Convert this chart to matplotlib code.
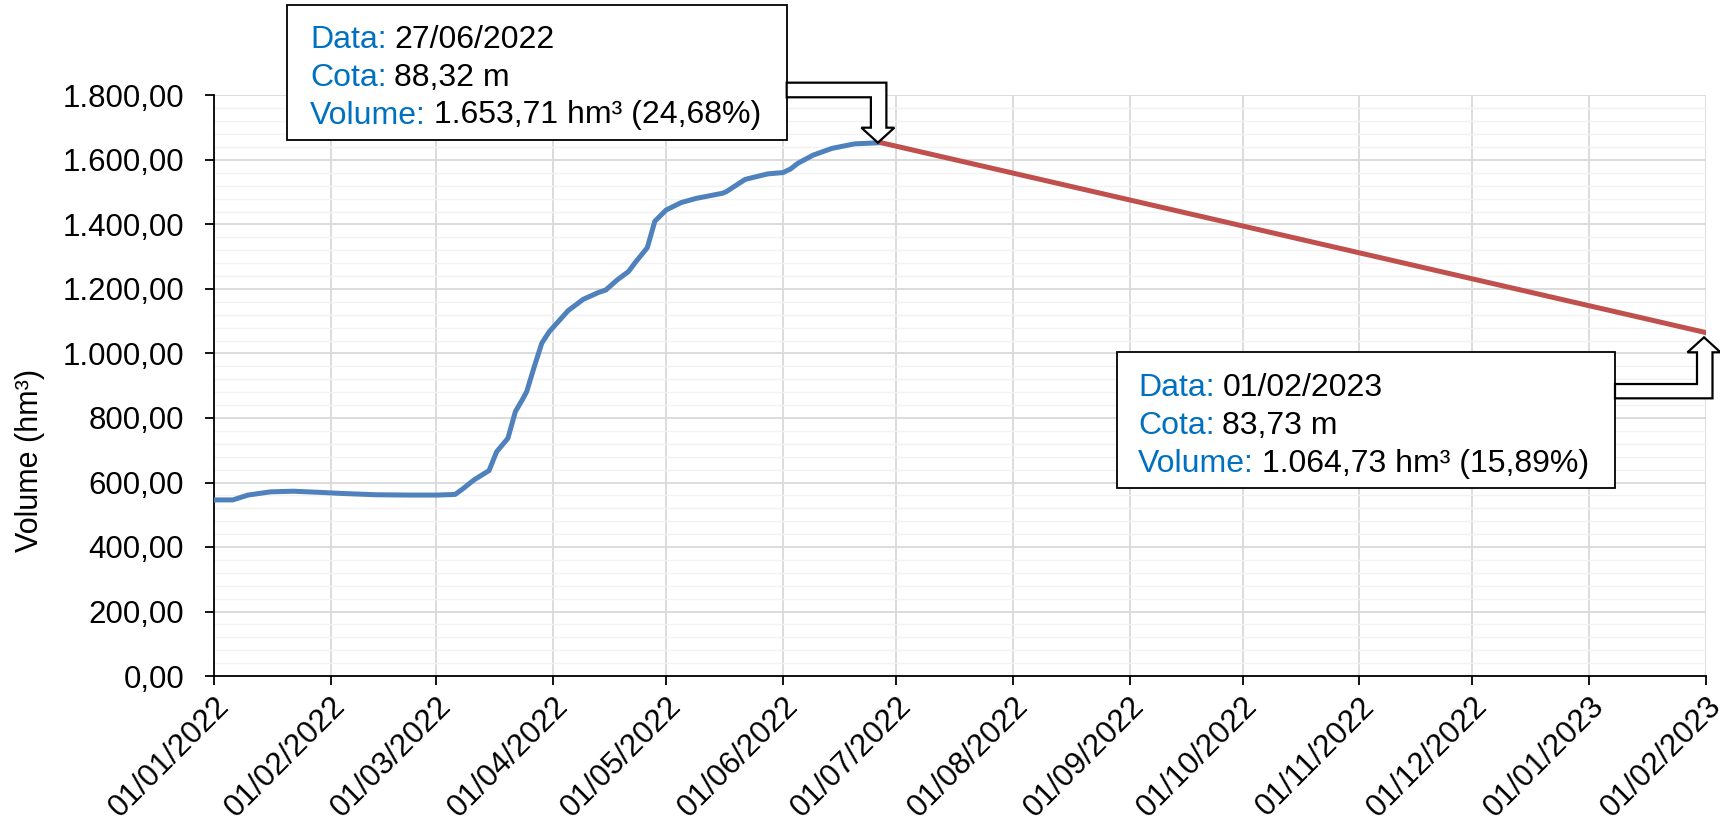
import matplotlib
matplotlib.use("Agg")
import matplotlib.pyplot as plt
import matplotlib.dates as mdates
from matplotlib.patches import Polygon, Rectangle
from matplotlib.ticker import FuncFormatter, MultipleLocator
import pandas as pd

plt.rcParams['font.family'] = ['Liberation Sans', 'DejaVu Sans']

# serie observada (volume em hm³)
datas_obs = ["2022-01-01", "2022-01-06", "2022-01-10", "2022-01-13", "2022-01-16",
             "2022-01-22", "2022-01-28", "2022-02-04", "2022-02-13", "2022-02-22",
             "2022-03-01", "2022-03-06", "2022-03-08", "2022-03-11", "2022-03-15",
             "2022-03-17", "2022-03-20", "2022-03-22", "2022-03-24", "2022-03-25",
             "2022-03-27", "2022-03-29", "2022-03-31", "2022-04-02", "2022-04-05",
             "2022-04-09", "2022-04-13", "2022-04-15", "2022-04-18", "2022-04-21",
             "2022-04-23", "2022-04-26", "2022-04-28", "2022-05-01", "2022-05-05",
             "2022-05-09", "2022-05-16", "2022-05-17", "2022-05-22", "2022-05-28",
             "2022-06-01", "2022-06-03", "2022-06-05", "2022-06-09", "2022-06-14",
             "2022-06-20", "2022-06-27"]
volume_obs = [546, 546, 561, 566, 571,
              573, 570, 566, 562, 561,
              561, 563, 580, 608, 637,
              695, 737, 820, 860, 882,
              959, 1032, 1068, 1094, 1133,
              1168, 1189, 1197, 1228, 1254,
              1285, 1328, 1410, 1445, 1468,
              1481, 1497, 1502, 1540, 1557,
              1561, 1572, 1590, 1615, 1636,
              1650, 1653.71]

# projecao
datas_proj = ["2022-06-27", "2023-02-01"]
volume_proj = [1653.71, 1064.73]

# textos das caixas
caixa1 = [("Data:", "27/06/2022"), ("Cota:", "88,32 m"), ("Volume:", "1.653,71 hm³ (24,68%)")]
caixa2 = [("Data:", "01/02/2023"), ("Cota:", "83,73 m"), ("Volume:", "1.064,73 hm³ (15,89%)")]

FS = 22.5
FS_CX = 23
W, H = 1720, 831
fig = plt.figure(figsize=(W / 100, H / 100), dpi=100)
ax = fig.add_axes([214 / W, (H - 676) / H, (1706 - 214) / W, (676 - 95.5) / H])

x_obs = pd.to_datetime(datas_obs)
x_proj = pd.to_datetime(datas_proj)

ax.plot(x_obs, volume_obs, color='#4F81BD', lw=3.6, solid_joinstyle='round',
        solid_capstyle='round', zorder=3)
ax.plot(x_proj, volume_proj, color='#C0504D', lw=3.6, solid_capstyle='round', zorder=3)

ax.set_xlim(pd.Timestamp("2022-01-01"), pd.Timestamp("2023-02-01"))
ax.set_ylim(0, 1800)
ax.yaxis.set_major_locator(MultipleLocator(200))
ax.yaxis.set_minor_locator(MultipleLocator(40))
ax.yaxis.set_major_formatter(FuncFormatter(
    lambda v, p: f"{v:,.2f}".replace(",", "X").replace(".", ",").replace("X", ".")))
ax.xaxis.set_major_locator(mdates.MonthLocator())
ax.xaxis.set_major_formatter(mdates.DateFormatter("%d/%m/%Y"))

ax.grid(True, which='major', color='#D9D9D9', lw=1.3)
ax.grid(True, which='minor', axis='y', color='#F2F2F2', lw=1.0)
ax.set_axisbelow(True)
for s in ['top', 'right']:
    ax.spines[s].set_visible(False)
for s in ['left', 'bottom']:
    ax.spines[s].set_color('black')
    ax.spines[s].set_linewidth(1.3)
ax.tick_params(axis='both', which='major', direction='out', length=6.5, width=1.3,
               labelsize=FS, colors='black')
ax.tick_params(axis='x', pad=4.5)
ax.tick_params(axis='y', pad=15)
ax.tick_params(axis='y', which='minor', length=0)
for lbl in ax.get_xticklabels():
    lbl.set_rotation(45)
    lbl.set_ha('right')
    lbl.set_rotation_mode('anchor')
ax.set_ylabel("Volume (hm³)", fontsize=22)
ax.yaxis.set_label_coords((30 - 214) / 1492, (676 - 460) / (676 - 95.5))
ax.yaxis.label.set_va('center')

renderer = fig.canvas.get_renderer()


def caixa(x0, y0, x1, y1, tx, linhas_y, linhas):
    # coordenadas em pixels a partir do topo
    fig.patches.append(Rectangle((x0 / W, 1 - y1 / H), (x1 - x0) / W, (y1 - y0) / H,
                                 transform=fig.transFigure, facecolor='white',
                                 edgecolor='black', lw=1.3, zorder=10))
    for (rot, val), ly in zip(linhas, linhas_y):
        t = fig.text(tx / W, 1 - ly / H, rot, color='#0070C0', fontsize=FS_CX,
                     va='baseline', ha='left', zorder=11)
        larg = t.get_window_extent(renderer).width
        fig.text((tx + larg + 8) / W, 1 - ly / H, val, color='black', fontsize=FS_CX,
                 va='baseline', ha='left', zorder=11)


def seta(bx, tip, dy_a, dy_b, desce=True):
    # seta em bloco: haste horizontal saindo da caixa e ponta no ponto
    tx, ty = tip
    wr, wl, h, L = 8.5, 7, 16.5, 15
    s = 1 if desce else -1
    pts = [(bx, ty + s * dy_b), (tx + wr, ty + s * dy_b), (tx + wr, ty + s * L),
           (tx + h, ty + s * L), (tx, ty), (tx - h, ty + s * L), (tx - wl, ty + s * L),
           (tx - wl, ty + s * dy_a), (bx, ty + s * dy_a)]
    fig.patches.append(Polygon(pts, closed=True, transform=None, facecolor='white',
                               edgecolor='black', lw=1.6, joinstyle='miter', zorder=12))


caixa(287, 5.5, 786.7, 140, 310, [48, 85.5, 123.5], caixa1)
caixa(1117, 351.7, 1615, 488, 1138, [396, 433.5, 472], caixa2)

p1 = ax.transData.transform((mdates.date2num(x_proj[0]), volume_proj[0]))
p2 = ax.transData.transform((mdates.date2num(x_proj[1]), volume_proj[1]))
seta(786.7, (p1[0] - 3, p1[1]), 45.4, 60, desce=True)
seta(1615, (p2[0] - 2, p2[1] - 4.7), 46.7, 61, desce=False)

fig.savefig("out.png", dpi=100)
